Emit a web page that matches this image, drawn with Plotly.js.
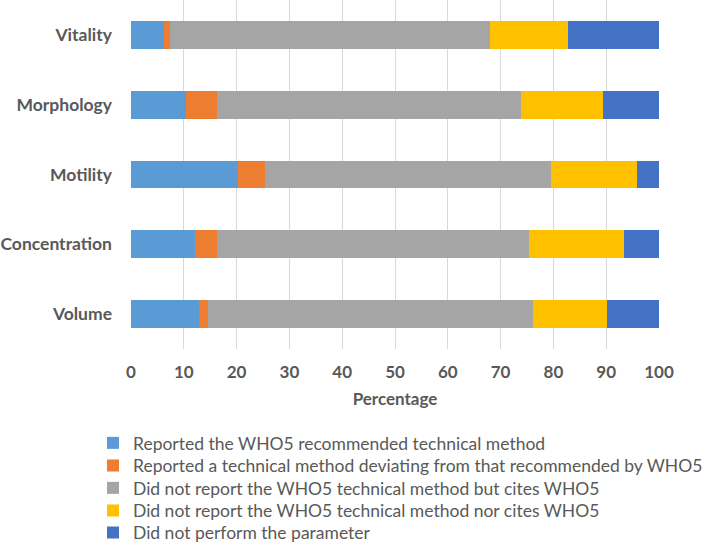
<!DOCTYPE html>
<html>
<head>
<meta charset="utf-8">
<script src="https://cdn.plot.ly/plotly-3.0.1.min.js"></script>
<style>html,body{margin:0;padding:0;background:#fff;}#chart{width:717px;height:552px;}</style>
</head>
<body>
<div id="chart"></div>
<script>
var categories = ['Volume', 'Concentration', 'Motility', 'Morphology', 'Vitality'];
var seriesNames = [
  'Reported the WHO5 recommended technical method',
  'Reported a technical method deviating from that recommended by WHO5',
  'Did not report the WHO5 technical method but cites WHO5',
  'Did not report the WHO5 technical method nor cites WHO5',
  'Did not perform the parameter'
];
var reportedRecommended = [12.9, 12.2, 20.3, 10.5, 6.3];
var reportedDeviating   = [1.7, 4.1, 5.1, 5.8, 1.1];
var citesWHO5           = [61.6, 59.0, 54.1, 57.5, 60.6];
var notCited            = [14.0, 18.1, 16.4, 15.6, 14.7];
var notPerformed        = [9.8, 6.6, 4.1, 10.6, 17.3];
var xTicks = [0, 10, 20, 30, 40, 50, 60, 70, 80, 90, 100];

var seriesValues = [reportedRecommended, reportedDeviating, citesWHO5, notCited, notPerformed];
var colors = ['#5B9BD5', '#ED7D31', '#A5A5A5', '#FFC000', '#4472C4'];
var legendIds = ['legend', 'legend2', 'legend3', 'legend4', 'legend5'];

var traces = seriesValues.map(function (vals, i) {
  return {
    type: 'bar',
    orientation: 'h',
    name: seriesNames[i],
    x: vals,
    y: categories,
    legend: legendIds[i],
    marker: {color: colors[i]},
    hoverinfo: 'x+name'
  };
});

var plotTop = 0, plotHeight = 349;
var legendRowsPx = [443, 465.5, 488, 510.5, 532.5];

var layout = {
  width: 717,
  height: 552,
  barmode: 'stack',
  bargap: 0.6,
  paper_bgcolor: '#ffffff',
  plot_bgcolor: '#ffffff',
  font: {family: 'Lato, "Open Sans", sans-serif', size: 17.5, color: '#595959'},
  margin: {l: 131, r: 58, t: plotTop, b: 552 - plotTop - plotHeight},
  showlegend: true,
  xaxis: {
    range: [0, 100],
    tickvals: xTicks,
    ticktext: xTicks.map(String),
    showgrid: true,
    gridcolor: '#D9D9D9',
    gridwidth: 1,
    zeroline: false,
    showline: false,
    ticks: '',
    ticklabelstandoff: 11,
    tickfont: {size: 17, color: '#595959', weight: 'bold'},
    title: {text: '<b>Percentage</b>', font: {size: 17, color: '#595959'}, standoff: 12},
    fixedrange: true
  },
  yaxis: {
    categoryorder: 'array',
    categoryarray: categories,
    showgrid: false,
    zeroline: false,
    showline: false,
    ticks: '',
    ticklabelstandoff: 18,
    tickfont: {size: 17.5, color: '#595959', weight: 'bold'},
    automargin: false,
    fixedrange: true
  }
};

legendIds.forEach(function (id, i) {
  layout[id] = {
    orientation: 'v',
    x: (93 - 131) / 528,
    xanchor: 'left',
    y: (plotTop + plotHeight - legendRowsPx[i]) / plotHeight,
    yanchor: 'middle',
    font: {size: 17.5, color: '#595959'},
    itemwidth: 30,
    bgcolor: 'rgba(0,0,0,0)'
  };
});

Plotly.newPlot('chart', traces, layout, {displayModeBar: false, staticPlot: true});
</script>
</body>
</html>
